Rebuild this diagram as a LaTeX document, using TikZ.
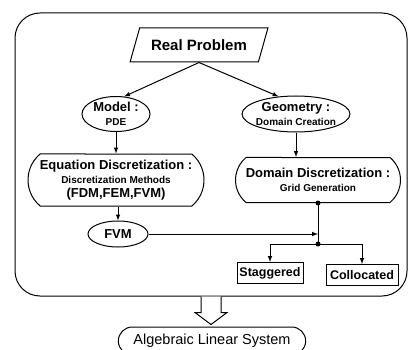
\documentclass[tikz,border=0pt]{standalone}
\usepackage{fontspec}
\setmainfont{Liberation Sans}
\usetikzlibrary{arrows,positioning,shapes.geometric,shapes.misc}

\newcommand{\subline}[1]{{\fontsize{10}{12}\selectfont #1}}

\begin{document}
\begin{tikzpicture}[x=1pt,y=-1pt,line width=1pt,>=latex]
\tikzstyle{oval}=[ellipse,draw,align=center,inner sep=0pt,font=\bfseries\fontsize{13}{14}\selectfont]
\tikzstyle{stage}=[rounded rectangle,rounded rectangle arc length=100,draw,align=center,inner xsep=0pt,inner ysep=2pt,font=\bfseries\fontsize{13}{14}\selectfont]
\tikzstyle{leaf}=[rectangle,draw,inner sep=2pt,font=\bfseries\fontsize{12.5}{14}\selectfont]
\tikzstyle{link}=[->]

\clip (0,0) rectangle (409,350);

% outer frame
\node (frame) [draw,rounded corners=25pt,minimum width=392pt,minimum height=283pt] at (211,154.5) {};

\node (real) [trapezium,trapezium left angle=65,trapezium right angle=115,trapezium stretches=true,draw,
  minimum width=138pt,minimum height=34pt,font=\bfseries\fontsize{15}{18}\selectfont] at (199,45) {Real Problem};

\node (model) [oval,minimum width=68pt,minimum height=35pt] at (116,114) {Model :\\\subline{PDE}};
\node (geom) [oval,inner xsep=-2pt,minimum width=108pt,minimum height=36pt] at (296,114) {Geometry :\\\subline{Domain Creation}};

\node (eqn) [stage,minimum width=176pt,minimum height=52pt] at (116,180) {Equation Discretization :\\\subline{Discretization Methods}\\(FDM,FEM,FVM)};
\node (dom) [stage,minimum width=165pt,minimum height=45pt] at (318,180) {Domain Discretization :\\\subline{Grid Generation}};

\node (fvm) [oval,minimum width=60pt,minimum height=26pt] at (118,234) {FVM};
\coordinate (split) at (318,244);

\node (stag) [leaf,minimum width=66pt,minimum height=21pt] at (270,273) {Staggered};
\node (coll) [leaf,minimum width=72pt,minimum height=21pt] at (362,275) {Collocated};

\node (alg) [rounded rectangle,draw,minimum width=194pt,minimum height=28pt,font=\fontsize{14.5}{17}\selectfont] at (212,341) {Algebraic Linear System};

% connectors
\draw[link] (real.south) -- (model.65);
\draw[link] (real.south) -- (geom.135);
\draw[link] (model.south) -- (model.south |- eqn.north);
\draw[link] (eqn.south -| fvm) -- (fvm.north);
\draw[link] (geom.south) -- (geom.south |- dom.north);
\draw (dom.south) -- (split);
\draw[link] (fvm.east) -- (fvm.east -| split);
\draw[link] (split) -| (stag.north);
\draw[link] (split) -| (coll.north);
\fill (dom.south) circle (2.5pt);
\fill (split) circle (2.5pt);

% hollow arrow out of the frame
\draw[fill=white] (frame.south) ++(-10,0) -- ++(0,16) -- ++(-6,0) -- ++(16,12) -- ++(16,-12) -- ++(-6,0) -- ++(0,-16);
\end{tikzpicture}
\end{document}
